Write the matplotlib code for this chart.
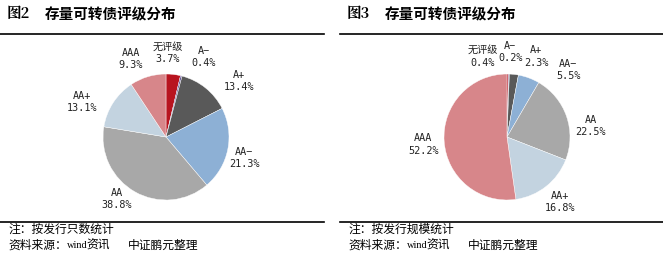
import matplotlib
matplotlib.use("Agg")
import matplotlib.pyplot as plt
from matplotlib.lines import Line2D

plt.rcParams['font.family'] = ['Noto Sans CJK SC', 'DejaVu Sans']

W, H = 663, 258

# data
ratings = ["无评级", "A-", "A+", "AA-", "AA", "AA+", "AAA"]
count_share = [3.7, 0.4, 13.4, 21.3, 38.8, 13.1, 9.3]
scale_share = [0.4, 0.2, 2.3, 5.5, 22.5, 16.8, 52.2]
rating_labels = ["无评级", "A−", "A+", "AA−", "AA", "AA+", "AAA"]
colors = ["#B8141F", "#5E4F96", "#595959", "#8DB0D5", "#A8A8A8", "#C3D3E0", "#D7868A"]

# label centres (pie radius units) as placed in the original chart
left_label_pos = [(0.03, 1.34), (0.60, 1.27), (1.16, 0.89), (1.24, -0.33),
                  (-0.78, -0.98), (-1.33, 0.56), (-0.56, 1.24)]
right_label_pos = [(-0.38, 1.28), (0.05, 1.35), (0.46, 1.28), (0.97, 1.06),
                   (1.33, 0.17), (0.84, -1.03), (-1.33, -0.12)]

fig = plt.figure(figsize=(W / 100, H / 100), dpi=100)


def fx(px):
    return px / W


def fy(py):
    return 1 - py / H


def pie_panel(cx, cy, r, values, label_pos):
    span = 1.6
    ax = fig.add_axes([fx(cx - span * r), fy(cy + span * r), 2 * span * r / W, 2 * span * r / H])
    ax.pie(values, colors=colors, startangle=90, counterclock=False, radius=1,
           wedgeprops=dict(edgecolor="white", linewidth=0.3))
    ax.set_xlim(-span, span)
    ax.set_ylim(-span, span)
    ax.set_aspect("equal")
    ax.axis("off")
    for name, v, (x, y) in zip(rating_labels, values, label_pos):
        ax.text(x, y, f"{name}\n{v:.1f}%", ha="center", va="center", fontsize=7.3,
                linespacing=1.3, color="#222222",
                family=['DejaVu Sans Mono', 'Noto Sans CJK SC'])
    return ax


def header(x0, x1, num, title):
    fig.text(fx(x0 + 7), fy(14), f"图{num}", fontsize=10.5, fontweight="bold",
             va="center", ha="left", family=['Noto Serif CJK SC', 'Noto Sans CJK SC'])
    fig.text(fx(x0 + 45), fy(14), title, fontsize=10.5, fontweight="bold",
             va="center", ha="left")
    fig.add_artist(Line2D([fx(x0), fx(x1)], [fy(34), fy(34)], color="black", lw=1.2))
    fig.add_artist(Line2D([fx(x0), fx(x1)], [fy(222), fy(222)], color="black", lw=1.2))


def footer(x0, note):
    fig.text(fx(x0 + 8), fy(229), note, fontsize=8.5, va="center", ha="left")
    fig.text(fx(x0 + 8), fy(245), "资料来源：", fontsize=8.5, va="center", ha="left")
    fig.text(fx(x0 + 67), fy(245), "wind", fontsize=7.5, va="center", ha="left",
             family="Liberation Serif")
    fig.text(fx(x0 + 86), fy(245), "资讯", fontsize=8.5, va="center", ha="left")
    fig.text(fx(x0 + 128), fy(245), "中证鹏元整理", fontsize=8.5, va="center", ha="left")


header(0, 324, 2, "存量可转债评级分布")
header(340, 663, 3, "存量可转债评级分布")

pie_panel(166, 137, 63, count_share, left_label_pos)
pie_panel(507, 137, 63, scale_share, right_label_pos)

footer(0, "注：按发行只数统计")
footer(340, "注：按发行规模统计")

fig.savefig("out.png", dpi=100)
